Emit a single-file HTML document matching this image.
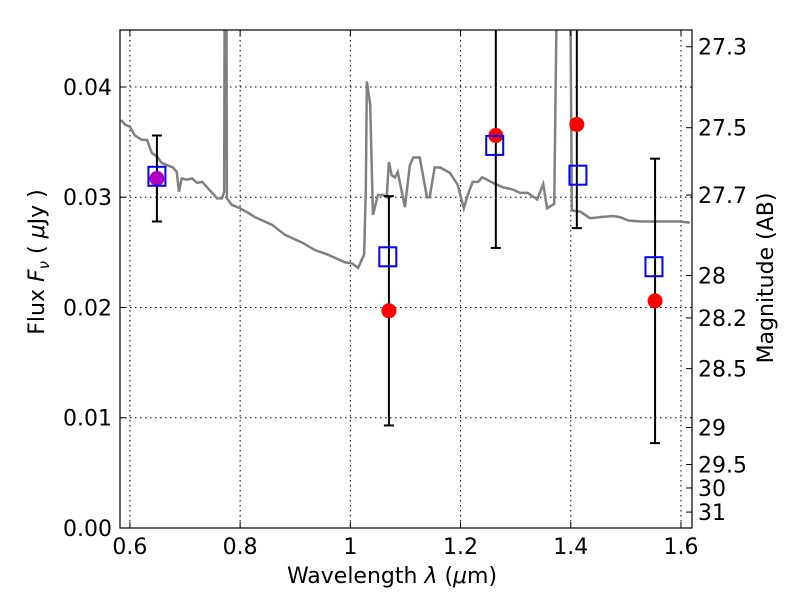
<!DOCTYPE html>
<html><head><meta charset="utf-8"><style>
body{margin:0;background:#fff}
svg{display:block;font-family:"DejaVu Sans","Liberation Sans",sans-serif}
</style></head><body>
<svg id="chart" width="800" height="600" viewBox="0 0 800 600">
<rect width="800" height="600" fill="#fff"/>
<g id="grid"></g>
<g id="plot"></g>
<g id="axes"></g>
<text x="392" y="583" font-size="22" text-anchor="middle">Wavelength  <tspan font-style="italic">λ</tspan> (<tspan font-style="italic">μ</tspan>m)</text>
<text transform="translate(44,262) rotate(-90)" font-size="22" text-anchor="middle">Flux  <tspan font-style="italic">F</tspan><tspan font-style="italic" font-size="15" dy="5">ν</tspan><tspan dy="-5">  (  </tspan><tspan font-style="italic">μ</tspan>Jy )</text>
<text transform="translate(773,278) rotate(-90)" font-size="22" text-anchor="middle">Magnitude (AB)</text>
</svg>
<script>
const specLam=[0.584,0.591,0.600,0.609,0.622,0.631,0.640,0.649,0.658,0.678,0.685,0.689,0.694,0.703,0.713,0.722,0.731,0.742,0.758,0.767,0.771,0.772,0.775,0.776,0.785,0.800,0.814,0.827,0.858,0.881,0.912,0.936,0.959,0.990,1.003,1.014,1.025,1.028,1.030,1.036,1.041,1.050,1.059,1.066,1.070,1.075,1.081,1.086,1.099,1.108,1.114,1.126,1.139,1.144,1.153,1.163,1.181,1.195,1.206,1.213,1.222,1.232,1.239,1.244,1.259,1.277,1.295,1.308,1.322,1.339,1.350,1.357,1.370,1.375,1.399,1.402,1.417,1.435,1.453,1.477,1.489,1.504,1.526,1.562,1.585,1.597,1.616];
const specFlux=[0.0370,0.0366,0.0364,0.0356,0.0352,0.0352,0.0340,0.0337,0.0331,0.0327,0.0323,0.0305,0.0317,0.0316,0.0317,0.0313,0.0314,0.0308,0.0299,0.0299,0.0305,0.05,0.05,0.0299,0.0293,0.0290,0.0286,0.0282,0.0275,0.0266,0.0259,0.0252,0.0248,0.0241,0.0240,0.0236,0.0248,0.0305,0.0405,0.0384,0.0284,0.0302,0.0302,0.0300,0.0332,0.0320,0.0318,0.0323,0.0291,0.0329,0.0336,0.0336,0.0300,0.0300,0.0327,0.0327,0.0322,0.0311,0.0290,0.0302,0.0314,0.0314,0.0318,0.0317,0.0313,0.0309,0.0307,0.0304,0.0304,0.0298,0.0312,0.0290,0.0294,0.05,0.05,0.0288,0.0287,0.0281,0.0282,0.0283,0.0282,0.0279,0.0278,0.0278,0.0278,0.0278,0.0277];
const modelLam=[0.649,1.068,1.262,1.413,1.551];
const modelFlux=[0.0319,0.0246,0.0347,0.0320,0.0237];
const obsLam=[0.649,1.070,1.264,1.411,1.553];
const obsFlux=[0.0317,0.0197,0.0356,0.0366,0.0206];
const obsErr=[0.0039,0.0104,0.0102,0.0094,0.0129];
const xTicks=[0.6,0.8,1.0,1.2,1.4,1.6];
const xTickLabels=["0.6","0.8","1","1.2","1.4","1.6"];
const yTicks=[0,0.01,0.02,0.03,0.04];
const yTickLabels=["0.00","0.01","0.02","0.03","0.04"];
const magTicks=[27.3,27.5,27.7,28,28.2,28.5,29,29.5,30,31];

const L=120,R=692,T=30,B=528;
const X0=0.582,X1=1.62,Y0=0,Y1=0.04517;
const sx=v=>L+(v-X0)/(X1-X0)*(R-L);
const sy=v=>B-(v-Y0)/(Y1-Y0)*(B-T);
const NS='http://www.w3.org/2000/svg';
function mk(tag,attrs,parent){const e=document.createElementNS(NS,tag);for(const k in attrs)e.setAttribute(k,attrs[k]);parent.appendChild(e);return e;}
const grid=document.getElementById('grid'),plot=document.getElementById('plot'),axes=document.getElementById('axes');

xTicks.forEach((v,i)=>{const x=sx(v);
 let g=mk('line',{x1:x,x2:x,y1:T,y2:B,stroke:'#000','stroke-width':1,'stroke-dasharray':'1.5,3.5'},grid);
 
 let t=mk('line',{x1:x,x2:x,y1:B,y2:B-6,stroke:'#000'},axes);
 let t2=mk('line',{x1:x,x2:x,y1:T,y2:T+6,stroke:'#000'},axes);
 let l=mk('text',{x:x,y:B+26,'font-size':22,'text-anchor':'middle'},axes);l.textContent=xTickLabels[i];
 });
yTicks.forEach((v,i)=>{const y=sy(v);
 let g=mk('line',{x1:L,x2:R,y1:y,y2:y,stroke:'#000','stroke-width':1,'stroke-dasharray':'1.5,3.5'},grid);
 
 let t=mk('line',{x1:L,x2:L+6,y1:y,y2:y,stroke:'#000'},axes);
 let l=mk('text',{x:L-8,y:y+8,'font-size':22,'text-anchor':'end'},axes);l.textContent=yTickLabels[i];
 });
magTicks.forEach(m=>{const y=sy(Math.pow(10,(23.9-m)/2.5));
 let t=mk('line',{x1:R,x2:R-6,y1:y,y2:y,stroke:'#000'},axes);
 let l=mk('text',{x:R+6,y:y+8,'font-size':22},axes);l.textContent=String(m);
 });

const defs=mk('defs',{},plot);const cp=mk('clipPath',{id:'clip'},defs);mk('rect',{x:L,y:T,width:R-L,height:B-T},cp);
const inner=mk('g',{'clip-path':'url(#clip)'},plot);
let spec=mk('polyline',{points:specLam.map((v,i)=>sx(v)+','+sy(specFlux[i])).join(' '),fill:'none',stroke:'#808080','stroke-width':2.5},inner);

obsLam.forEach((v,i)=>{const x=sx(v);
 const e=mk('g',{stroke:'#000','stroke-width':2},inner);
 
 mk('line',{x1:x,x2:x,y1:sy(obsFlux[i]+obsErr[i]),y2:sy(obsFlux[i]-obsErr[i])},e);
 mk('line',{x1:x-5,x2:x+5,y1:sy(obsFlux[i]+obsErr[i]),y2:sy(obsFlux[i]+obsErr[i])},e);
 mk('line',{x1:x-5,x2:x+5,y1:sy(obsFlux[i]-obsErr[i]),y2:sy(obsFlux[i]-obsErr[i])},e);});
obsLam.forEach((v,i)=>{
 let c=mk('circle',{cx:sx(v),cy:sy(obsFlux[i]),r:7.5,fill:i===0?'#b000c0':'#ff0000'},inner);
 });
modelLam.forEach((v,i)=>{
 let s=mk('rect',{x:sx(v)-8.5,y:sy(modelFlux[i])-9.5,width:17,height:19,fill:'none',stroke:'#0000ff','stroke-width':2},inner);
 });
let fr=mk('rect',{x:L,y:T,width:R-L,height:B-T,fill:'none',stroke:'#000','stroke-width':1.2},axes);

</script>
</body></html>
